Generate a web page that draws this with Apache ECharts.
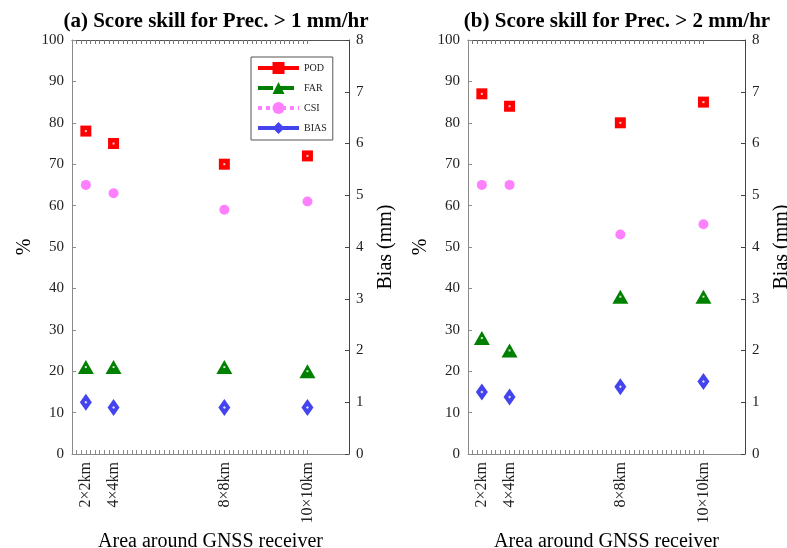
<!DOCTYPE html>
<html>
<head>
<meta charset="utf-8">
<script src="https://cdn.jsdelivr.net/npm/echarts@6/dist/echarts.min.js"></script>
<style>
html,body{margin:0;padding:0;background:#fff;}
#chart{width:787px;height:548px;}
</style>
</head>
<body>
<div id="chart"></div>
<script>
// ---- data ----
const categories = ['2×2km', '4×4km', '8×8km', '10×10km'];
const areaKm2 = [4, 16, 64, 100];
const podA = [78, 75, 70, 72];
const farA = [21, 21, 21, 20];
const csiA = [65, 63, 59, 61];
const biasA = [1.0, 0.9, 0.9, 0.9];
const podB = [87, 84, 80, 85];
const farB = [28, 25, 38, 38];
const csiB = [65, 65, 53, 55.5];
const biasB = [1.2, 1.1, 1.3, 1.4];
const titles = ['(a) Score skill for Prec. > 1 mm/hr', '(b) Score skill for Prec. > 2 mm/hr'];
const seriesNames = ['POD', 'FAR', 'CSI', 'BIAS'];

// ---- styling ----
const FONT = 'Liberation Serif';
const colors = { POD: '#ff0000', FAR: '#008000', CSI: '#ff80ff', BIAS: '#4444ee' };
const minorTicks = [];
for (let v = 0; v <= 100; v += 2) minorTicks.push(v);

const gridLefts = [72, 468];
const titleCenters = [211, 612];
const grids = gridLefts.map(l => ({ left: l, top: 40, width: 277, height: 414, outerBoundsMode: 'none', containLabel: false }));

const xAxes = [];
const yAxes = [];
grids.forEach((g, i) => {
  xAxes.push({
    type: 'value', gridIndex: i, position: 'bottom', min: -2, max: 118,
    name: 'Area around GNSS receiver', nameLocation: 'middle', nameGap: 76,
    nameTextStyle: { fontFamily: FONT, fontSize: 20, color: '#000' },
    axisLine: { show: true, onZero: false, lineStyle: { color: '#8a8a8a', width: 1 } },
    axisTick: { show: true, inside: true, length: 4, customValues: minorTicks, lineStyle: { color: '#8a8a8a' } },
    axisLabel: {
      show: true, rotate: 90, margin: 8, customValues: areaKm2,
      fontFamily: FONT, fontSize: 16, color: '#222',
      formatter: v => categories[areaKm2.indexOf(v)] || ''
    },
    splitLine: { show: false }
  });
  xAxes.push({
    type: 'value', gridIndex: i, position: 'top', min: -2, max: 118,
    axisLine: { show: true, onZero: false, lineStyle: { color: '#555', width: 1 } },
    axisTick: { show: true, inside: true, length: 4, customValues: minorTicks, lineStyle: { color: '#777' } },
    axisLabel: { show: false },
    splitLine: { show: false }
  });
  yAxes.push({
    type: 'value', gridIndex: i, position: 'left', min: 0, max: 100, interval: 10,
    name: '%', nameLocation: 'middle', nameGap: 37, nameRotate: 90,
    nameTextStyle: { fontFamily: FONT, fontSize: 20, color: '#000' },
    axisLine: { show: true, onZero: false, lineStyle: { color: '#8a8a8a', width: 1 } },
    axisTick: { show: true, inside: true, length: 4, lineStyle: { color: '#8a8a8a' } },
    axisLabel: { fontFamily: FONT, fontSize: 15, color: '#222', margin: 8 },
    splitLine: { show: false }
  });
  yAxes.push({
    type: 'value', gridIndex: i, position: 'right', min: 0, max: 8, interval: 1,
    name: 'Bias (mm)', nameLocation: 'middle', nameGap: 27, nameRotate: 90,
    nameTextStyle: { fontFamily: FONT, fontSize: 20, color: '#000' },
    axisLine: { show: true, onZero: false, lineStyle: { color: '#444', width: 1 } },
    axisTick: { show: true, inside: true, length: 4, lineStyle: { color: '#444' } },
    axisLabel: { fontFamily: FONT, fontSize: 15, color: '#222', margin: 7 },
    splitLine: { show: false }
  });
});

const symbols = {
  POD: { symbol: 'rect', size: 11, dot: 2 },
  FAR: { symbol: 'triangle', size: [16, 14], dot: 2 },
  CSI: { symbol: 'circle', size: 10, dot: 0 },
  BIAS: { symbol: 'diamond', size: [12, 17], dot: 3 }
};

const panelData = [
  { POD: podA, FAR: farA, CSI: csiA, BIAS: biasA },
  { POD: podB, FAR: farB, CSI: csiB, BIAS: biasB }
];

const series = [];
panelData.forEach((pd, i) => {
  seriesNames.forEach(name => {
    const isBias = name === 'BIAS';
    const data = pd[name].map((v, k) => [areaKm2[k], v]);
    series.push({
      name: name, type: 'line', xAxisIndex: i * 2, yAxisIndex: i * 2 + (isBias ? 1 : 0),
      data: data, symbol: symbols[name].symbol, symbolSize: symbols[name].size,
      showSymbol: true, showAllSymbol: true, silent: true, animation: false,
      itemStyle: { color: colors[name], opacity: 1 },
      lineStyle: { opacity: 0, width: 0 },
      z: 3
    });
    if (symbols[name].dot) {
      series.push({
        name: name + '_dot' + i, type: 'scatter', xAxisIndex: i * 2, yAxisIndex: i * 2 + (isBias ? 1 : 0),
        data: data, symbol: isBias ? 'diamond' : 'rect', symbolSize: symbols[name].dot, silent: true, animation: false,
        itemStyle: { color: '#ffffff' }, z: 4
      });
    }
  });
});

const legendLine = {
  POD: { type: 'solid' }, FAR: { type: [15, 6] }, CSI: { type: [4, 4] }, BIAS: { type: 'solid' }
};

const option = {
  backgroundColor: '#fff',
  animation: false,
  title: titles.map((t, i) => ({
    text: t, left: titleCenters[i], top: 6, textAlign: 'center',
    textStyle: { fontFamily: FONT, fontSize: 21, fontWeight: 'bold', color: '#000' }
  })),
  legend: {
    orient: 'vertical', left: 251, top: 57, width: 81,
    padding: [5, 6, 6, 5], itemGap: 8, itemWidth: 41, itemHeight: 15,
    borderColor: '#555', borderWidth: 1, backgroundColor: '#fff',
    textStyle: { fontFamily: FONT, fontSize: 10, color: '#222' },
    data: seriesNames.map(n => ({
      name: n,
      itemStyle: { color: colors[n], opacity: 1 },
      lineStyle: { color: colors[n], opacity: 1, width: 4, type: legendLine[n].type }
    }))
  },
  grid: grids,
  xAxis: xAxes,
  yAxis: yAxes,
  series: series
};

const chart = echarts.init(document.getElementById('chart'), null, { renderer: 'canvas' });
chart.setOption(option);
</script>
</body>
</html>
